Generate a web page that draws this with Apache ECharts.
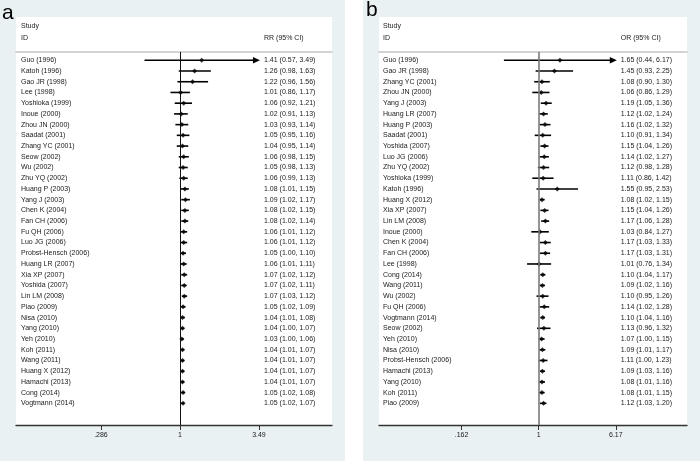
<!DOCTYPE html>
<html><head><meta charset="utf-8">
<script src="https://cdn.jsdelivr.net/npm/echarts@6/dist/echarts.min.js"></script>
<style>html,body{margin:0;padding:0;background:#fff}#c{width:700px;height:462px}</style>
</head><body><div id="c"></div>
<script>
// ---------- Panel a (RR) ----------
const studiesA = ['Guo (1996)','Katoh (1996)','Gao JR (1998)','Lee (1998)','Yoshioka (1999)','Inoue (2000)','Zhou JN (2000)','Saadat (2001)','Zhang YC (2001)','Seow (2002)','Wu (2002)','Zhu YQ (2002)','Huang P (2003)','Yang J (2003)','Chen K (2004)','Fan CH (2006)','Fu QH (2006)','Luo JG (2006)','Probst-Hensch (2006)','Huang LR (2007)','Xia XP (2007)','Yoshida (2007)','Lin LM (2008)','Piao (2009)','Nisa (2010)','Yang (2010)','Yeh (2010)','Koh (2011)','Wang (2011)','Huang X (2012)','Hamachi (2013)','Cong (2014)','Vogtmann (2014)'];
const rrA = [1.41,1.26,1.22,1.01,1.06,1.02,1.03,1.05,1.04,1.06,1.05,1.06,1.08,1.09,1.08,1.08,1.06,1.06,1.05,1.06,1.07,1.07,1.07,1.05,1.04,1.04,1.03,1.04,1.04,1.04,1.04,1.05,1.05];
const loA = [0.57,0.98,0.96,0.86,0.92,0.91,0.93,0.95,0.95,0.98,0.98,0.99,1.01,1.02,1.02,1.02,1.01,1.01,1.00,1.01,1.02,1.02,1.03,1.02,1.01,1.00,1.00,1.01,1.01,1.01,1.01,1.02,1.02];
const hiA = [3.49,1.63,1.56,1.17,1.21,1.13,1.14,1.16,1.14,1.15,1.13,1.13,1.15,1.17,1.15,1.14,1.12,1.12,1.10,1.11,1.12,1.11,1.12,1.09,1.08,1.07,1.06,1.07,1.07,1.07,1.07,1.08,1.07];
const ticksA = ['.286','1','3.49'];

// ---------- Panel b (OR) ----------
const studiesB = ['Guo (1996)','Gao JR (1998)','Zhang YC (2001)','Zhou JN (2000)','Yang J (2003)','Huang LR (2007)','Huang P (2003)','Saadat (2001)','Yoshida (2007)','Luo JG (2006)','Zhu YQ (2002)','Yoshioka (1999)','Katoh (1996)','Huang X (2012)','Xia XP (2007)','Lin LM (2008)','Inoue (2000)','Chen K (2004)','Fan CH (2006)','Lee (1998)','Cong (2014)','Wang (2011)','Wu (2002)','Fu QH (2006)','Vogtmann (2014)','Seow (2002)','Yeh (2010)','Nisa (2010)','Probst-Hensch (2006)','Hamachi (2013)','Yang (2010)','Koh (2011)','Piao (2009)'];
const orB = [1.65,1.45,1.08,1.06,1.19,1.12,1.16,1.10,1.15,1.14,1.12,1.11,1.55,1.08,1.15,1.17,1.03,1.17,1.17,1.01,1.10,1.09,1.10,1.14,1.10,1.13,1.07,1.09,1.11,1.09,1.08,1.08,1.12];
const loB = [0.44,0.93,0.90,0.86,1.05,1.02,1.02,0.91,1.04,1.02,0.98,0.86,0.95,1.02,1.04,1.06,0.84,1.03,1.03,0.76,1.04,1.02,0.95,1.02,1.04,0.96,1.00,1.01,1.00,1.03,1.01,1.01,1.03];
const hiB = [6.17,2.25,1.30,1.29,1.36,1.24,1.32,1.34,1.26,1.27,1.28,1.42,2.53,1.15,1.26,1.28,1.27,1.33,1.31,1.34,1.17,1.16,1.26,1.28,1.16,1.32,1.15,1.17,1.23,1.16,1.16,1.15,1.20];
const ticksB = ['.162','1','6.17'];

const FONT = '"Liberation Sans",Arial,sans-serif';
const FS = 7;
const TXT = '#1a1a1a';
const BG = '#eaf1f3';
const W = 700, H = 462;

function fmt(v){ return v.toFixed(2); }

function panel(idx, names, est, lo, hi, ticks, L) {
  const lnT = ticks.map(t => Math.log(parseFloat(t)));
  const pxPerLn = (L.tickHiPx - L.tickLoPx) / (lnT[2] - lnT[0]);
  const xmin = -(L.onePx - L.x0) / pxPerLn;
  const xmax = (L.x1 - L.onePx) / pxPerLn;
  const rows = names.map((_, i) => i);
  const ymin = (L.top - L.row0) / L.rowStep;
  const ymax = (L.axisY - L.row0) / L.rowStep;
  const tickMax = Math.log(parseFloat(ticks[2]));
  const ciData = names.map((_, i) => [Math.log(lo[i]), Math.log(hi[i]), i]);
  const ptData = names.map((_, i) => [Math.log(est[i]), i]);
  const gi = idx;
  const grid = { left: L.x0, right: W - L.x1, top: L.top, bottom: H - L.axisY, containLabel: false };
  const xAxes = [
    { gridIndex: gi, type: 'value', position: 'bottom', min: xmin, max: xmax,
      axisLine: { onZero: false, lineStyle: { color: '#333', width: 1.3 } },
      axisTick: { show: true, customValues: lnT, length: 5, lineStyle: { color: '#333', width: 1 } },
      axisLabel: { show: true, customValues: lnT, margin: 7, fontSize: FS, fontFamily: FONT, color: TXT,
        formatter: v => { let k = 0, d = 1e9; lnT.forEach((t, j) => { if (Math.abs(t - v) < d) { d = Math.abs(t - v); k = j; } }); return ticks[k]; } },
      splitLine: { show: false } },
    { gridIndex: gi, type: 'value', position: 'top', min: xmin, max: xmax,
      axisLine: { onZero: false, lineStyle: { color: '#d3d3d3', width: 2 } },
      axisTick: { show: false }, axisLabel: { show: false }, splitLine: { show: false } }
  ];
  const yAxes = [
    { gridIndex: gi, type: 'value', position: 'left', inverse: true, min: ymin, max: ymax,
      axisLine: { show: false, onZero: false }, axisTick: { show: false }, splitLine: { show: false },
      axisLabel: { show: true, inside: true, customValues: rows, margin: L.nameMargin, fontSize: FS, fontFamily: FONT, color: TXT,
        formatter: v => names[Math.round(v)] } },
    { gridIndex: gi, type: 'value', position: 'right', inverse: true, min: ymin, max: ymax,
      axisLine: { show: false, onZero: false }, axisTick: { show: false }, splitLine: { show: false },
      axisLabel: { show: true, inside: true, customValues: rows, margin: L.ciMargin, align: 'left', fontSize: FS, fontFamily: FONT, color: TXT,
        formatter: v => { const i = Math.round(v); return fmt(est[i]) + ' (' + fmt(lo[i]) + ', ' + fmt(hi[i]) + ')'; } } }
  ];
  const xi = idx * 2, yi = idx * 2;
  const series = [
    { type: 'custom', xAxisIndex: xi, yAxisIndex: yi, data: ciData, silent: true, z: 3,
      encode: { x: [0, 1], y: 2 },
      renderItem: (params, api) => {
        const a = api.coord([api.value(0), api.value(2)]);
        const b = api.coord([api.value(1), api.value(2)]);
        const children = [{ type: 'line', shape: { x1: a[0], y1: a[1], x2: b[0], y2: b[1] },
          style: { stroke: '#000', lineWidth: L.ciWidth } }];
        if (api.value(1) >= tickMax - 1e-9) {
          children[0].shape.x2 = b[0] - 4;
          children.push({ type: 'polygon', shape: { points: [[b[0] - 6, b[1] - 3.2], [b[0] + 1, b[1]], [b[0] - 6, b[1] + 3.2]] },
            style: { fill: '#000' } });
        }
        return { type: 'group', children };
      } },
    { type: 'scatter', xAxisIndex: xi, yAxisIndex: yi, data: ptData, symbol: 'diamond', symbolSize: [5, 5],
      itemStyle: { color: '#000' }, silent: true, z: 4,
      markLine: { silent: true, symbol: 'none', label: { show: false },
        lineStyle: { color: L.refColor, width: L.refWidth, type: 'solid' },
        data: [{ xAxis: 0 }] } }
  ];
  return { grid, xAxes, yAxes, series };
}

const LA = { x0: 16, x1: 332, onePx: 180, tickLoPx: 101, tickHiPx: 259, top: 52, axisY: 425,
  row0: 60.3, rowStep: 10.72, nameMargin: 5, ciMargin: 68, ciWidth: 1.6, refColor: '#111', refWidth: 1 };
const LB = { x0: 379, x1: 687, onePx: 538.7, tickLoPx: 461, tickHiPx: 615.3, top: 52, axisY: 425,
  row0: 60.3, rowStep: 10.72, nameMargin: 4, ciMargin: 66.3, ciWidth: 1.6, refColor: '#7a7a7a', refWidth: 1.6 };

const pa = panel(0, studiesA, rrA, loA, hiA, ticksA, LA);
const pb = panel(1, studiesB, orB, loB, hiB, ticksB, LB);

const headerText = (x, y, t) => ({ type: 'text', left: x, top: y, z: 10,
  style: { text: t, fill: TXT, font: FS + 'px ' + FONT } });

const option = {
  animation: false,
  backgroundColor: '#fff',
  grid: [pa.grid, pb.grid],
  xAxis: [...pa.xAxes, ...pb.xAxes],
  yAxis: [...pa.yAxes, ...pb.yAxes],
  series: [...pa.series, ...pb.series],
  graphic: [
    { type: 'rect', shape: { x: 0, y: 0, width: 345, height: 461 }, style: { fill: BG }, z: -10, silent: true },
    { type: 'rect', shape: { x: 363, y: 0, width: 337, height: 461 }, style: { fill: BG }, z: -10, silent: true },
    { type: 'rect', shape: { x: 16, y: 17, width: 316, height: 408 }, style: { fill: '#fff' }, z: -9, silent: true },
    { type: 'rect', shape: { x: 379, y: 17, width: 308, height: 408 }, style: { fill: '#fff' }, z: -9, silent: true },
    { type: 'text', left: 2, top: 3, z: 10, style: { text: 'a', fill: '#000', font: '21px "Liberation Sans",Arial,sans-serif' } },
    { type: 'text', left: 366, top: 0, z: 10, style: { text: 'b', fill: '#000', font: '21px "Liberation Sans",Arial,sans-serif' } },
    headerText(21, 23, 'Study'),
    headerText(21, 35, 'ID'),
    headerText(264, 35, 'RR (95% CI)'),
    headerText(383, 23, 'Study'),
    headerText(383, 35, 'ID'),
    headerText(620.7, 35, 'OR (95% CI)')
  ]
};
const chart = echarts.init(document.getElementById('c'), null, { renderer: 'canvas', width: W, height: H });
chart.setOption(option);
</script>
</body></html>
